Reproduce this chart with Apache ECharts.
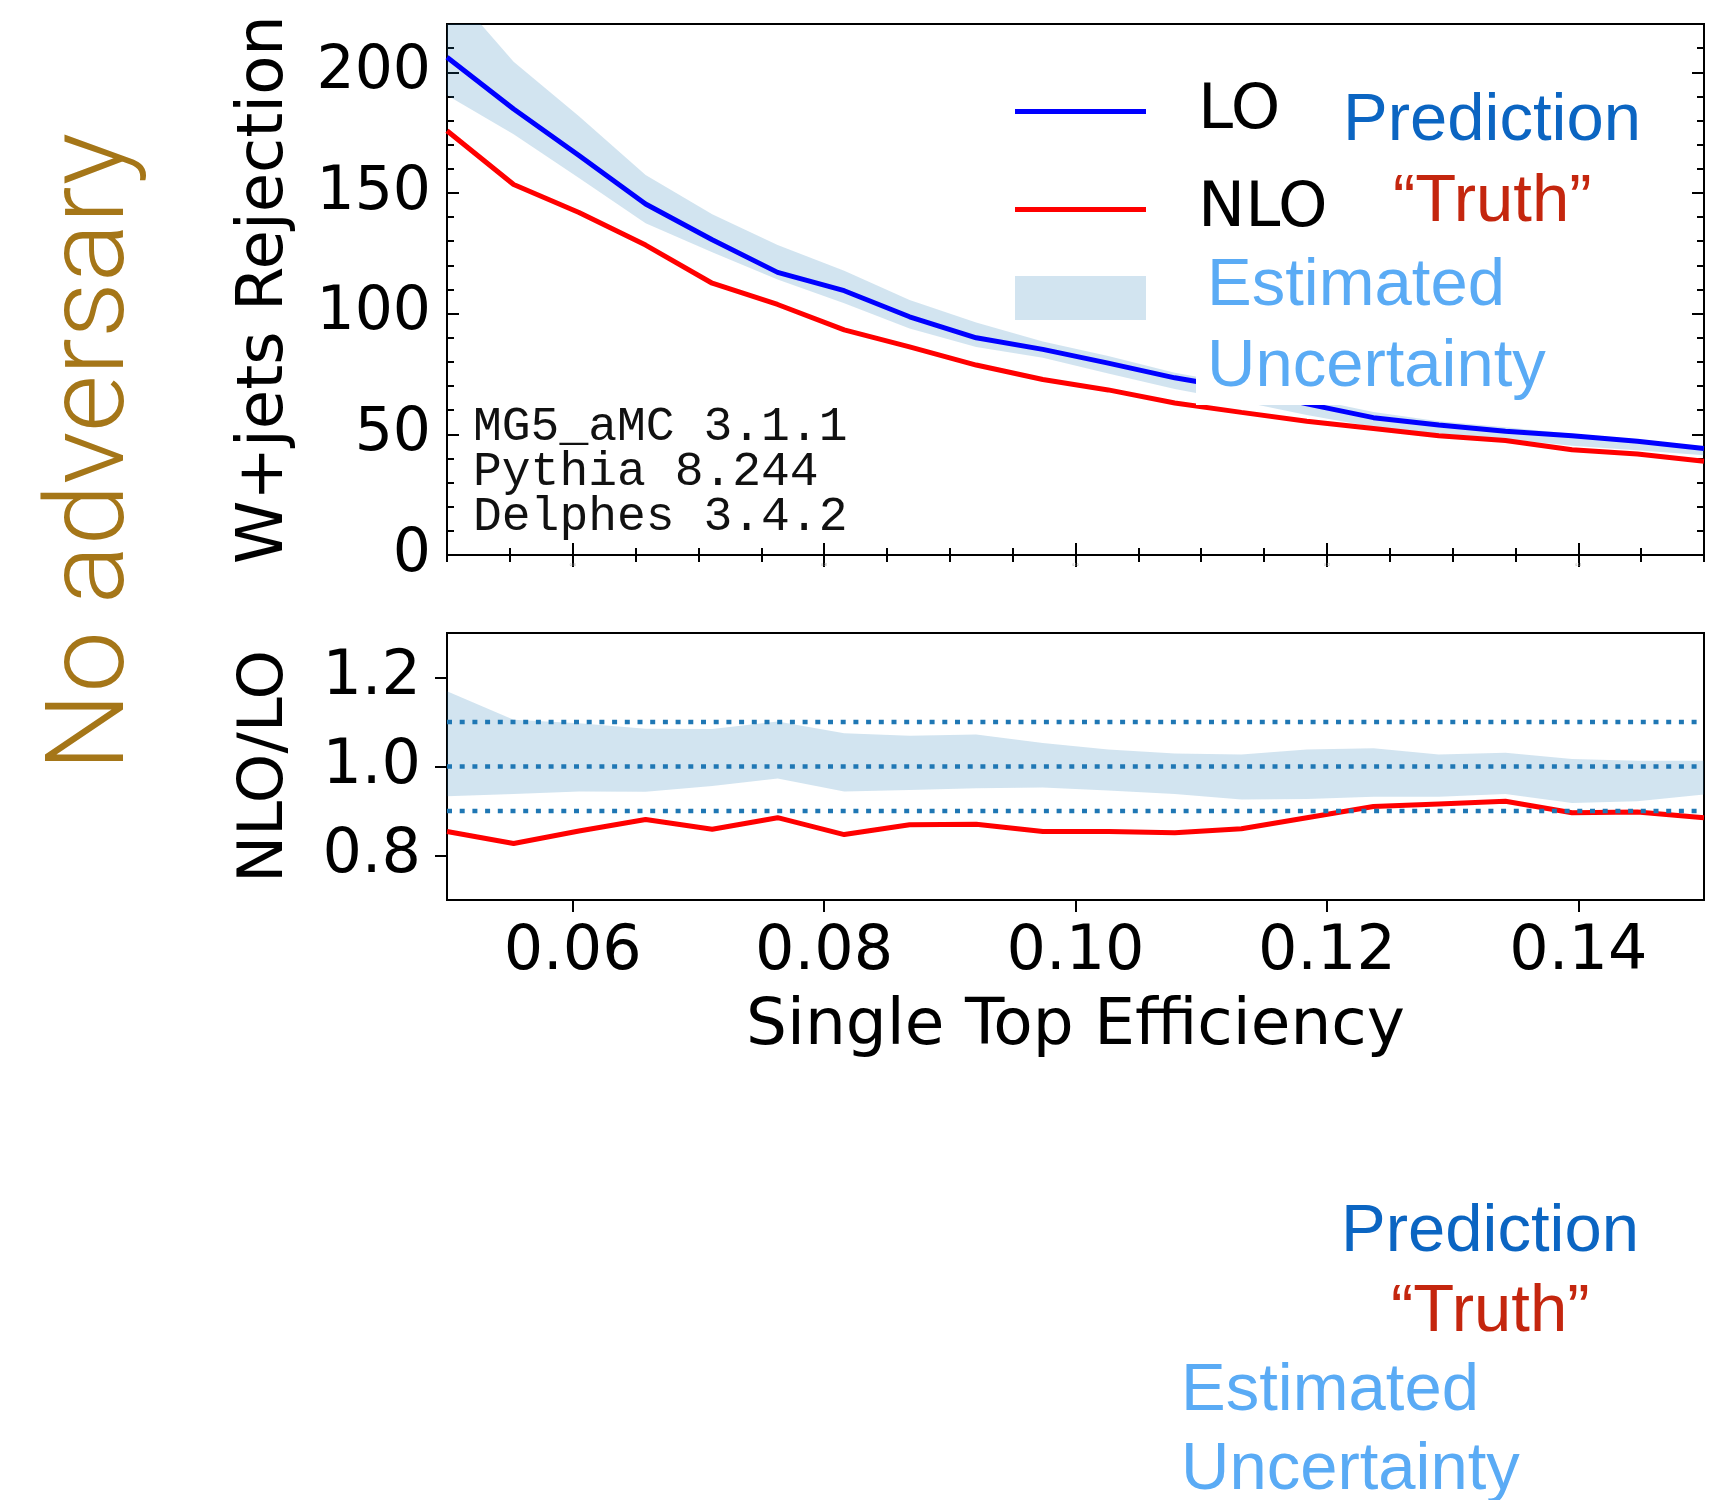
<!DOCTYPE html>
<html>
<head>
<meta charset="utf-8">
<title>W+jets rejection vs single top efficiency</title>
<script src="https://cdn.jsdelivr.net/npm/echarts@6/dist/echarts.min.js"></script>
<style>
  html, body { margin: 0; padding: 0; background: #ffffff; }
  #chart { width: 1716px; height: 1500px; }
</style>
</head>
<body>
<div id="chart"></div>
<script>
// Working points (signal efficiency) shared by both panels
const efficiency = [0.0500, 0.0553, 0.0605, 0.0658, 0.0711, 0.0763, 0.0816, 0.0868, 0.0921, 0.0974,
                    0.1026, 0.1079, 0.1132, 0.1184, 0.1237, 0.1289, 0.1342, 0.1395, 0.1447, 0.1500];

// Upper panel: background rejection
const rejectionLO  = [206.2, 184.8, 165.5, 145.4, 130.6, 117.1, 109.5, 98.7, 90.0, 85.2,
                      79.5, 73.4, 68.7, 62.6, 56.9, 53.9, 51.3, 49.4, 47.1, 44.1];
const rejectionNLO = [175.8, 153.5, 141.9, 128.4, 112.6, 103.8, 93.3, 86.2, 78.7, 72.7,
                      68.4, 63.0, 59.1, 55.4, 52.4, 49.4, 47.4, 43.6, 41.8, 38.8];
const rejectionBandHigh = [236.0, 204.4, 181.8, 157.4, 141.2, 128.4, 117.8, 105.6, 96.3, 88.5,
                           82.5, 75.5, 70.5, 65.0, 59.2, 55.4, 52.9, 50.2, 47.7, 44.7];
const rejectionBandLow  = [190.5, 174.3, 156.2, 137.4, 125.4, 114.1, 104.3, 93.8, 86.2, 81.7,
                           75.2, 68.8, 63.6, 58.0, 53.0, 50.3, 48.1, 45.3, 43.4, 41.3];

// Lower panel: NLO/LO ratio and relative uncertainty
const ratioNLOoverLO = [0.854, 0.827, 0.855, 0.881, 0.859, 0.885, 0.847, 0.869, 0.870, 0.854,
                        0.854, 0.851, 0.860, 0.885, 0.910, 0.916, 0.922, 0.896, 0.898, 0.885];
const ratioBandHigh  = [1.169, 1.105, 1.097, 1.085, 1.084, 1.101, 1.075, 1.069, 1.072, 1.053,
                        1.038, 1.029, 1.027, 1.038, 1.041, 1.027, 1.031, 1.017, 1.013, 1.013];
const ratioBandLow   = [0.933, 0.938, 0.944, 0.943, 0.956, 0.973, 0.944, 0.947, 0.951, 0.953,
                        0.946, 0.938, 0.926, 0.927, 0.932, 0.932, 0.938, 0.918, 0.922, 0.937];
const ratioGuides = [0.9, 1.0, 1.1];

// Tick positions
const effTicks = [0.06, 0.08, 0.10, 0.12, 0.14];
const ratioTicks = [0.8, 1.0, 1.2];

// Text
const generatorLines = ['MG5_aMC 3.1.1', 'Pythia 8.244', 'Delphes 3.4.2'];

const SANS = '"DejaVu Sans", sans-serif';
const HELV = '"Liberation Sans", Arial, sans-serif';
const BAND = 'rgba(31,119,180,0.2)';
const TICK = { color: '#000', width: 2 };
const LINE_W = 5;
// flat bar used as the legend key for the curves
const LEGEND_BAR = 'path://M0,0L131,0L131,5L0,5Z';

function pairs(ys) { return efficiency.map((x, i) => [x, ys[i]]); }

function bandSeries(name, gi, high, low) {
  return {
    name: name,
    type: 'custom',
    xAxisIndex: gi === 0 ? 0 : 4,
    yAxisIndex: gi === 0 ? 0 : 4,
    data: efficiency.map((x, i) => [x, low[i], high[i]]),
    encode: { x: 0, y: [1, 2] },
    itemStyle: { color: BAND },
    z: 1,
    silent: true,
    renderItem: function (params, api) {
      if (params.dataIndex !== 0) return null;
      const pts = [];
      for (let i = 0; i < efficiency.length; i++) pts.push(api.coord([efficiency[i], high[i]]));
      for (let i = efficiency.length - 1; i >= 0; i--) pts.push(api.coord([efficiency[i], low[i]]));
      const cs = params.coordSys;
      return {
        type: 'polygon',
        shape: { points: pts },
        style: { fill: BAND },
        clipPath: { type: 'rect', shape: { x: cs.x, y: cs.y, width: cs.width, height: cs.height } }
      };
    }
  };
}

function effAxis(gi, position, opts) {
  return Object.assign({
    gridIndex: gi, type: 'value', min: 0.05, max: 0.15, position: position,
    axisLine: { show: false }, splitLine: { show: false },
    axisLabel: { show: false }
  }, opts);
}

function valAxis(gi, position, min, max, opts) {
  return Object.assign({
    gridIndex: gi, type: 'value', min: min, max: max, position: position,
    axisLine: { show: false }, splitLine: { show: false },
    axisLabel: { show: false }
  }, opts);
}

const chart = echarts.init(document.getElementById('chart'), null, { renderer: 'canvas' });

const option = {
  animation: false,
  backgroundColor: '#ffffff',
  grid: [
    { left: 447, top: 24, width: 1257, height: 531, show: true, borderColor: '#000', borderWidth: 2,
      backgroundColor: 'transparent', containLabel: false, outerBoundsMode: 'none' },
    { left: 447, top: 633, width: 1257, height: 267, show: true, borderColor: '#000', borderWidth: 2,
      backgroundColor: 'transparent', containLabel: false, outerBoundsMode: 'none' }
  ],
  xAxis: [
    effAxis(0, 'bottom', {
      axisTick: { inside: true, length: 12, customValues: effTicks, lineStyle: TICK },
      axisLabel: { show: true, customValues: effTicks, fontSize: 3, color: '#999', margin: 9,
                   formatter: v => v.toFixed(2) }
    }),
    effAxis(0, 'bottom', { interval: 0.005, axisTick: { inside: true, length: 7, lineStyle: TICK } }),
    effAxis(0, 'top', { axisTick: { inside: true, length: 12, customValues: effTicks, lineStyle: TICK } }),
    effAxis(0, 'top', { interval: 0.005, axisTick: { inside: true, length: 7, lineStyle: TICK } }),
    effAxis(1, 'bottom', {
      axisTick: { inside: false, length: 12, customValues: effTicks, lineStyle: TICK },
      axisLabel: { show: true, customValues: effTicks, fontSize: 62, fontFamily: SANS, color: '#000',
                   margin: 22, formatter: v => v.toFixed(2) },
      name: 'Single Top Efficiency', nameLocation: 'middle', nameGap: 95,
      nameTextStyle: { fontSize: 64.5, fontFamily: SANS, color: '#000' }
    })
  ],
  yAxis: [
    valAxis(0, 'left', 0, 220, {
      interval: 50,
      axisTick: { inside: true, length: 12, lineStyle: TICK },
      axisLabel: { show: true, fontSize: 60, fontFamily: SANS, color: '#000', margin: 16,
                   showMaxLabel: false },
      name: 'W+jets Rejection', nameLocation: 'middle', nameRotate: 90, nameGap: 150,
      nameTextStyle: { fontSize: 64, fontFamily: SANS, color: '#000' }
    }),
    valAxis(0, 'left', 0, 220, { interval: 10, axisTick: { inside: true, length: 7, lineStyle: TICK } }),
    valAxis(0, 'right', 0, 220, { interval: 50, axisTick: { inside: true, length: 12, lineStyle: TICK } }),
    valAxis(0, 'right', 0, 220, { interval: 10, axisTick: { inside: true, length: 7, lineStyle: TICK } }),
    valAxis(1, 'left', 0.7, 1.3, {
      axisTick: { inside: false, length: 12, customValues: ratioTicks, lineStyle: TICK },
      axisLabel: { show: true, customValues: ratioTicks, fontSize: 62, fontFamily: SANS, color: '#000',
                   margin: 26, formatter: v => v.toFixed(1) },
      name: 'NLO/LO', nameLocation: 'middle', nameRotate: 90, nameGap: 150,
      nameTextStyle: { fontSize: 63, fontFamily: SANS, color: '#000' }
    })
  ],
  legend: {
    orient: 'vertical',
    left: 1010, top: 75,
    itemWidth: 131, itemHeight: 44, itemGap: 35,
    selectedMode: false,
    symbolKeepAspect: true,
    textStyle: { fontSize: 63, fontFamily: SANS, color: '#000', lineHeight: 60, padding: [0, 0, 0, 47] },
    formatter: name => (name === 'Estimated Uncertainty' ? '' : name),
    data: [
      { name: 'LO', icon: LEGEND_BAR },
      { name: 'NLO', icon: LEGEND_BAR },
      { name: 'Estimated Uncertainty', icon: 'rect' }
    ]
  },
  series: [
    bandSeries('Estimated Uncertainty', 0, rejectionBandHigh, rejectionBandLow),
    {
      name: 'LO', type: 'line', xAxisIndex: 0, yAxisIndex: 0, data: pairs(rejectionLO),
      symbol: 'none', clip: true, z: 3,
      lineStyle: { color: '#0000ff', width: LINE_W }, itemStyle: { color: '#0000ff' }
    },
    {
      name: 'NLO', type: 'line', xAxisIndex: 0, yAxisIndex: 0, data: pairs(rejectionNLO),
      symbol: 'none', clip: true, z: 4,
      lineStyle: { color: '#ff0000', width: LINE_W }, itemStyle: { color: '#ff0000' }
    },
    bandSeries('Ratio uncertainty', 1, ratioBandHigh, ratioBandLow),
    {
      name: 'NLO/LO', type: 'line', xAxisIndex: 4, yAxisIndex: 4, data: pairs(ratioNLOoverLO),
      symbol: 'none', clip: true, z: 3,
      lineStyle: { color: '#ff0000', width: LINE_W }, itemStyle: { color: '#ff0000' }
    }
  ].concat(ratioGuides.map(v => ({
    name: 'guide ' + v, type: 'line', xAxisIndex: 4, yAxisIndex: 4,
    data: [[0.05, v], [0.15, v]], symbol: 'none', z: 5, silent: true,
    lineStyle: { color: '#1f77b4', width: 4.5, type: [5, 7.7], cap: 'butt' }
  }))),
  graphic: {
    elements: [
      {
        type: 'text', x: 95, y: 452, rotation: Math.PI / 2, z: 60,
        style: { text: 'No adversary', fill: '#a57618', font: '300 110px Roboto, "Liberation Sans", sans-serif',
                 textAlign: 'center', textVerticalAlign: 'middle' }
      },
      {
        type: 'text', x: 473, y: 472, z: 60,
        style: { text: generatorLines.join('\n'), fill: '#111', font: '48px "Liberation Mono", monospace',
                 lineHeight: 45, textAlign: 'left', textVerticalAlign: 'middle' }
      },
      // white card behind the uncertainty caption
      {
        type: 'rect', z: 50, shape: { x: 1196, y: 238, width: 380, height: 167 },
        style: { fill: '#ffffff' }
      },
      { type: 'text', x: 1343, y: 122, z: 60,
        style: { text: 'Prediction', fill: '#0b65c2', font: '67px ' + HELV, textVerticalAlign: 'middle' } },
      { type: 'text', x: 1393, y: 203, z: 60,
        style: { text: '\u201cTruth\u201d', fill: '#c4260e', font: '67px ' + HELV, textVerticalAlign: 'middle' } },
      { type: 'text', x: 1207, y: 287, z: 60,
        style: { text: 'Estimated', fill: '#5aabf5', font: '67px ' + HELV, textVerticalAlign: 'middle' } },
      { type: 'text', x: 1207, y: 368, z: 60,
        style: { text: 'Uncertainty', fill: '#5aabf5', font: '67px ' + HELV, textVerticalAlign: 'middle' } },
      { type: 'text', x: 1341, y: 1233, z: 60,
        style: { text: 'Prediction', fill: '#0b65c2', font: '67px ' + HELV, textVerticalAlign: 'middle' } },
      { type: 'text', x: 1391, y: 1313, z: 60,
        style: { text: '\u201cTruth\u201d', fill: '#c4260e', font: '67px ' + HELV, textVerticalAlign: 'middle' } },
      { type: 'text', x: 1181, y: 1392, z: 60,
        style: { text: 'Estimated', fill: '#5aabf5', font: '67px ' + HELV, textVerticalAlign: 'middle' } },
      { type: 'text', x: 1181, y: 1471, z: 60,
        style: { text: 'Uncertainty', fill: '#5aabf5', font: '67px ' + HELV, textVerticalAlign: 'middle' } }
    ]
  }
};

chart.setOption(option);
</script>
</body>
</html>
